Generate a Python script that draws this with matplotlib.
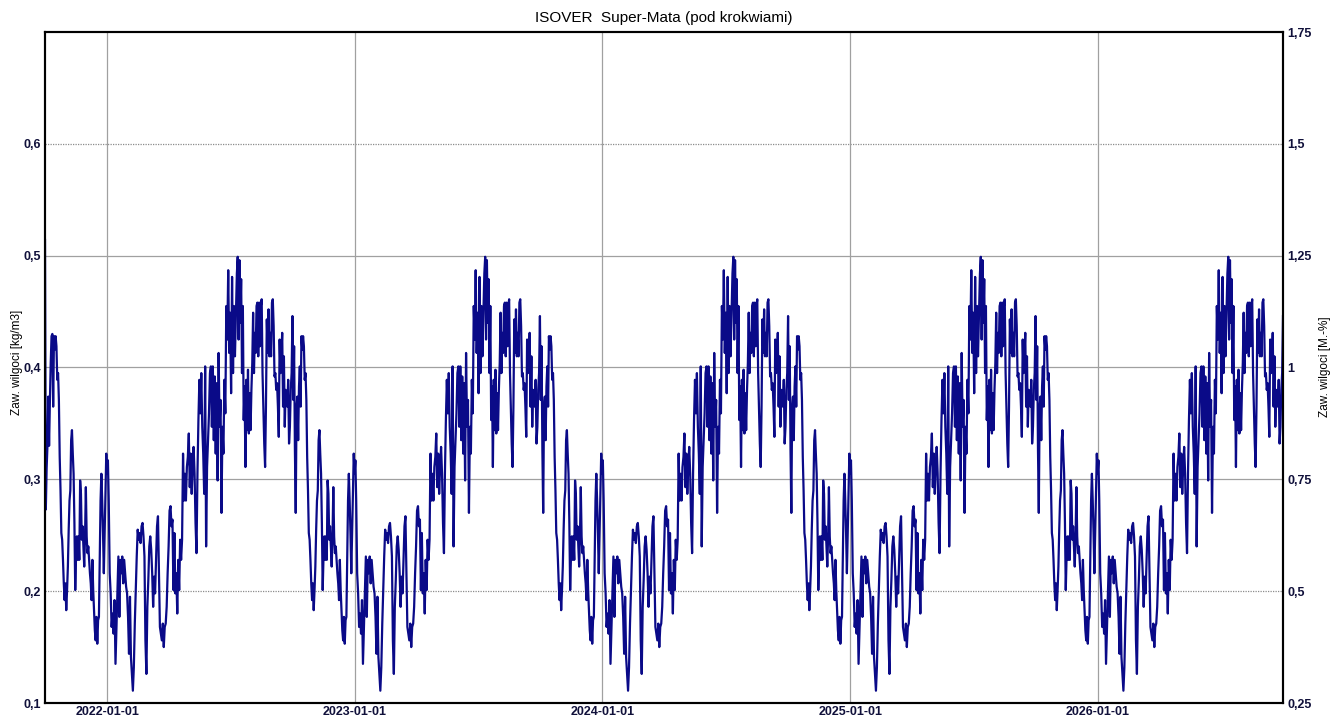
import matplotlib
matplotlib.use("Agg")
import matplotlib.pyplot as plt
import matplotlib.dates as mdates
import numpy as np
import pandas as pd

plt.rcParams['font.family'] = ['Liberation Sans', 'DejaVu Sans']

# moisture content [kg/m3], one yearly cycle (cycle repeats every year)
oct_dec = [0.446, 0.371, 0.419, 0.326, 0.270, 0.365, 0.374, 0.335, 0.383, 0.401,
           0.365, 0.428, 0.416, 0.428, 0.419, 0.389, 0.395, 0.371, 0.320, 0.290,
           0.252, 0.246, 0.228, 0.207, 0.192, 0.207, 0.183, 0.201, 0.222, 0.255,
           0.281, 0.290, 0.335, 0.344, 0.323, 0.305, 0.261, 0.201, 0.231, 0.249,
           0.228, 0.249, 0.228, 0.299, 0.287, 0.246, 0.258, 0.240, 0.222, 0.249,
           0.293, 0.249, 0.234, 0.240, 0.228, 0.216, 0.207, 0.192, 0.228, 0.201,
           0.183, 0.165, 0.156, 0.177, 0.153, 0.174, 0.177, 0.228, 0.281, 0.305,
           0.281, 0.252, 0.216, 0.252, 0.287, 0.323, 0.305, 0.317]
jan_mar = [0.281, 0.216, 0.198, 0.168, 0.180, 0.162, 0.192, 0.135, 0.168, 0.201,
           0.231, 0.177, 0.228, 0.216, 0.231, 0.207, 0.228, 0.216, 0.204, 0.198,
           0.177, 0.144, 0.195, 0.141, 0.126, 0.111, 0.132, 0.171, 0.201, 0.231,
           0.255, 0.246, 0.252, 0.243, 0.258, 0.261, 0.249, 0.231, 0.156, 0.126,
           0.186, 0.210, 0.240, 0.249, 0.237, 0.216, 0.186, 0.213, 0.198, 0.228,
           0.258, 0.267, 0.216, 0.168, 0.162, 0.156, 0.171, 0.150, 0.168, 0.171,
           0.186, 0.216, 0.240, 0.272, 0.276, 0.258]
apr_jun = [0.264, 0.201, 0.252, 0.198, 0.216, 0.180, 0.228, 0.201, 0.246, 0.228,
           0.246, 0.323, 0.281, 0.305, 0.281, 0.311, 0.320, 0.341, 0.293, 0.323,
           0.287, 0.311, 0.329, 0.305, 0.261, 0.234, 0.305, 0.353, 0.389, 0.359,
           0.395, 0.347, 0.323, 0.287, 0.401, 0.240, 0.311, 0.335, 0.359, 0.395,
           0.401, 0.347, 0.401, 0.335, 0.392, 0.323, 0.386, 0.299, 0.413, 0.347,
           0.371, 0.270, 0.347, 0.323, 0.389, 0.359, 0.455, 0.425, 0.487, 0.413,
           0.449, 0.377, 0.481, 0.395, 0.455, 0.410, 0.449]
jul_sep = [0.484, 0.499, 0.425, 0.496, 0.440, 0.479, 0.395, 0.455, 0.353, 0.383,
           0.311, 0.389, 0.344, 0.398, 0.341, 0.377, 0.344, 0.380, 0.404, 0.449,
           0.395, 0.431, 0.413, 0.455, 0.458, 0.410, 0.458, 0.419, 0.455, 0.461,
           0.395, 0.365, 0.332, 0.311, 0.365, 0.443, 0.413, 0.452, 0.410, 0.431,
           0.410, 0.458, 0.461, 0.437, 0.392, 0.395, 0.380, 0.386, 0.365, 0.338,
           0.425, 0.395, 0.410, 0.431, 0.365, 0.410, 0.347, 0.380, 0.377, 0.365,
           0.389, 0.332, 0.347, 0.380, 0.395]
# first days of the simulation (initial condition differs)
start_values = [0.514, 0.273, 0.31, 0.33, 0.374, 0.33, 0.37, 0.404, 0.428, 0.43]

seasons = [(oct_dec, "10-01", "01-03", 0), (jan_mar, "01-03", "04-07", 1),
           (apr_jun, "04-07", "07-11", 1), (jul_sep, "07-11", "10-01", 1)]
years = [2021, 2022, 2023, 2024, 2025]

dates, values = [], []
for y in years:
    for vals, s, e, off in seasons:
        if vals is oct_dec and y == years[0]:
            vals = start_values + oct_dec[len(start_values):]
        t0 = pd.Timestamp(f"{y + off}-{s}")
        t1 = pd.Timestamp(f"{y + 1}-{e}")
        n = len(vals)
        for i, v in enumerate(vals):
            dates.append(t0 + (t1 - t0) * i / n)
            values.append(v)
dates.append(pd.Timestamp("2026-10-01"))
values.append(oct_dec[0])

fig = plt.figure(figsize=(13.32, 7.18), dpi=100)
ax = fig.add_axes([45 / 1332, 15 / 718, 1238 / 1332, 671 / 718])

line_col = '#0a0a88'
lab_col = '#10103a'

ax.set_xlim(pd.Timestamp("2021-10-01"), pd.Timestamp("2026-10-01"))
ax.set_ylim(0.1, 0.7)

# grid
for g in [0.3, 0.4, 0.5]:
    ax.axhline(g, color='#a0a0a0', lw=0.9, zorder=1)
for g in [0.2, 0.6]:
    ax.axhline(g, color='#8c8c8c', lw=0.9, ls=(0, (1, 1)), zorder=1)
xticks = [pd.Timestamp(f"{y}-01-01") for y in range(2022, 2027)]
for xt in xticks:
    ax.axvline(xt, color='#a0a0a0', lw=0.9, zorder=1)

ax.plot(dates, values, color=line_col, lw=1.6, zorder=3)

ax.set_xticks(xticks)
ax.xaxis.set_major_formatter(mdates.DateFormatter('%Y-%m-%d'))
yt = [0.1, 0.2, 0.3, 0.4, 0.5, 0.6, 0.7]
ax.set_yticks(yt)
ax.set_yticklabels(['0,1', '0,2', '0,3', '0,4', '0,5', '0,6', ''])
ax.tick_params(length=0, labelsize=9, colors=lab_col, pad=3)
ax.tick_params(axis='x', pad=2)
for lab in ax.get_xticklabels() + ax.get_yticklabels():
    lab.set_fontweight('bold')

ax2 = ax.twinx()
ax2.set_ylim(0.25, 1.75)
ax2.set_yticks([0.25, 0.5, 0.75, 1.0, 1.25, 1.5, 1.75])
ax2.set_yticklabels(['0,25', '0,5', '0,75', '1', '1,25', '1,5', '1,75'])
ax2.tick_params(length=0, labelsize=9, colors=lab_col, pad=3)
for lab in ax2.get_yticklabels():
    lab.set_fontweight('bold')

for a in (ax, ax2):
    for sp in a.spines.values():
        sp.set_linewidth(1.5)
        sp.set_color('black')

ax.set_title('ISOVER  Super-Mata (pod krokwiami)', fontsize=11, pad=7)
fig.text(17 / 1332, 1 - 362 / 718, 'Zaw. wilgoci [kg/m3]', rotation=90,
         ha='center', va='center', fontsize=8.5)
fig.text(1325 / 1332, 1 - 367 / 718, 'Zaw. wilgoci [M.-%]', rotation=90,
         ha='center', va='center', fontsize=8.5)

fig.savefig('out.png', dpi=100)
